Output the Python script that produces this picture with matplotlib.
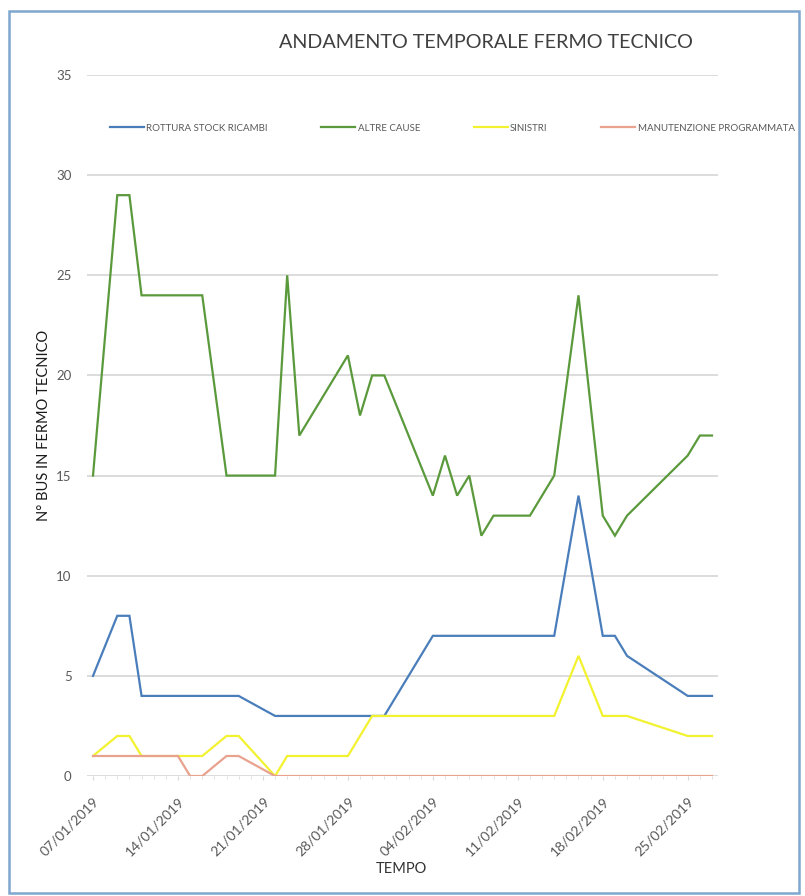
import matplotlib
matplotlib.use("Agg")
import matplotlib.pyplot as plt
import matplotlib.dates as mdates
import pandas as pd
from matplotlib.patches import Rectangle

plt.rcParams['font.family'] = ['Lato', 'DejaVu Sans']

dates = ["2019-01-07", "2019-01-09", "2019-01-10", "2019-01-11", "2019-01-14", "2019-01-15",
         "2019-01-16", "2019-01-18", "2019-01-19", "2019-01-22", "2019-01-23", "2019-01-24",
         "2019-01-28", "2019-01-29", "2019-01-30", "2019-01-31", "2019-02-04", "2019-02-05",
         "2019-02-06", "2019-02-07", "2019-02-08", "2019-02-09", "2019-02-12", "2019-02-14",
         "2019-02-16", "2019-02-18", "2019-02-19", "2019-02-20", "2019-02-25", "2019-02-26",
         "2019-02-27"]
rottura = [5, 8, 8, 4, 4, 4, 4, 4, 4, 3, 3, 3, 3, 3, 3, 3, 7, 7, 7, 7, 7, 7, 7, 7, 14, 7, 7, 6, 4, 4, 4]
altre = [15, 29, 29, 24, 24, 24, 24, 15, 15, 15, 25, 17, 21, 18, 20, 20, 14, 16, 14, 15, 12, 13,
         13, 15, 24, 13, 12, 13, 16, 17, 17]
sinistri = [1, 2, 2, 1, 1, 1, 1, 2, 2, 0, 1, 1, 1, 2, 3, 3, 3, 3, 3, 3, 3, 3, 3, 3, 6, 3, 3, 3, 2, 2, 2]
manutenzione = [1, 1, 1, 1, 1, 0, 0, 1, 1, 0, 0, 0, 0, 0, 0, 0, 0, 0, 0, 0, 0, 0, 0, 0, 0, 0, 0, 0,
                0, 0, 0]
series_names = ["ROTTURA STOCK RICAMBI", "ALTRE CAUSE", "SINISTRI", "MANUTENZIONE PROGRAMMATA"]
colors = ["#4a7ebb", "#5b9a3c", "#f2f230", "#e8a28e"]
yticks = [0, 5, 10, 15, 20, 25, 30, 35]

x = pd.to_datetime(dates)

fig = plt.figure(figsize=(8.05, 8.96), dpi=100)
fig.patch.set_facecolor("white")
ax = fig.add_axes([0.108, 0.1339, 0.784, 0.7824])

for vals, name, c in zip([rottura, altre, sinistri, manutenzione], series_names, colors):
    ax.plot(x, vals, color=c, lw=1.6, label=name, solid_joinstyle='miter')

ax.set_ylim(0, 35)
ax.set_yticks(yticks)
start = x[0]
ax.set_xlim(start - pd.Timedelta(hours=12), start + pd.Timedelta(days=51, hours=12))
ticks = pd.date_range(start, periods=8, freq="7D")
ax.set_xticks(ticks)
ax.xaxis.set_major_formatter(mdates.DateFormatter("%d/%m/%Y"))
ax.xaxis.set_minor_locator(mdates.DayLocator())

for s in ax.spines.values():
    s.set_visible(False)
ax.grid(axis='y', color='#d9d9d9', lw=1.3)
ax.set_axisbelow(True)
ax.tick_params(axis='y', length=0, labelsize=9.5, labelcolor='#595959', pad=11)
ax.tick_params(axis='x', which='major', length=3, color='#d9d9d9', labelsize=10,
               labelcolor='#595959', pad=11)
ax.tick_params(axis='x', which='minor', length=2, color='#d9d9d9')
for lab in ax.get_xticklabels():
    lab.set_rotation(45)
    lab.set_ha('right')
    lab.set_rotation_mode('anchor')

ax.set_ylabel("N° BUS IN FERMO TECNICO", fontsize=10.5, color='#1a1a1a')
ax.yaxis.set_label_coords(-0.057, 0.5)
ax.set_xlabel("TEMPO", fontsize=10.5, color='#333333')
ax.xaxis.set_label_coords(0.499, -0.122)

leg = ax.legend(ncol=4, loc='center left', bbox_to_anchor=(0.0365, 0.924), frameon=False,
                fontsize=7, handlelength=3.5, handletextpad=0.25, columnspacing=5.5,
                borderaxespad=0, borderpad=0)
for t in leg.get_texts():
    t.set_color('#595959')

fig.text(0.604, 0.953, "ANDAMENTO TEMPORALE FERMO TECNICO", ha='center', va='center',
         fontsize=14.2, color='#404040')

fig.patches.append(Rectangle((9 / 805, 3 / 896), 790 / 805, 882 / 896, transform=fig.transFigure,
                             fill=False, edgecolor='#7fa7cf', lw=1.8))

fig.savefig("out.png", dpi=100, facecolor="white")
